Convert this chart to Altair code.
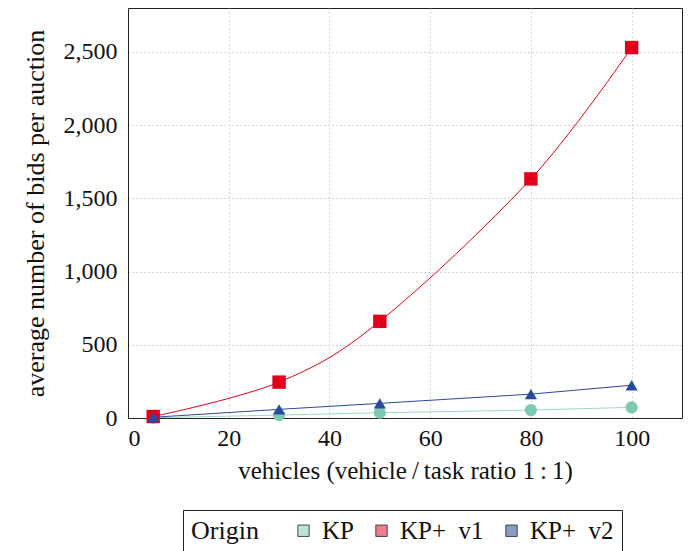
import altair as alt
import pandas as pd

vehicles = [5, 30, 50, 80, 100]
kp = [2, 20, 36, 54, 73]
kp_v1 = [10, 245, 660, 1633, 2530]
kp_v2 = [5, 59, 100, 163, 224]

series = ["KP", "KP+\u00a0\u00a0v1", "KP+\u00a0\u00a0v2"]
line_colors = ["#9ed9c9", "#e3001b", "#2b4a9c"]
mark_colors = ["#7fc8b4", "#e3001b", "#2b4a9c"]
legend_fill = ["#b8e3d8", "#f07d8c", "#8d9bcb"]
shapes = ["circle", "square", "triangle-up"]
sizes = [150, 180, 145]

rows = []
for name, vals in zip(series, [kp, kp_v1, kp_v2]):
    for v, b in zip(vehicles, vals):
        rows.append({"vehicles": v, "bids": b, "Origin": name})
df = pd.DataFrame(rows)

FONT = "Liberation Serif, Times New Roman, serif"
xs = alt.Scale(domain=[0, 110], nice=False)
ys = alt.Scale(domain=[0, 2800], nice=False)
X = alt.X("vehicles:Q", scale=xs,
          axis=alt.Axis(values=[0, 20, 40, 60, 80, 100],
                        title="vehicles (vehicle\u2009/\u2009task ratio 1\u2009:\u20091)",
                        titleFontSize=25,
                        labelPadding=8, titlePadding=8))
Y = alt.Y("bids:Q", scale=ys,
          axis=alt.Axis(values=[0, 500, 1000, 1500, 2000, 2500],
                        labelExpr="format(datum.value, ',')",
                        title="average number of bids per auction",
                        titleFontSize=26,
                        labelPadding=11, titlePadding=15))

layers = []
for i, name in enumerate(series):
    d = df[df.Origin == name]
    base = alt.Chart(d)
    line = base.mark_line(color=line_colors[i], strokeWidth=1,
                          interpolate="cardinal" if i == 1 else "linear").encode(x=X, y=Y)
    pts = base.mark_point(shape=shapes[i], filled=True, opacity=1, color=mark_colors[i],
                          size=sizes[i]).encode(x=X, y=Y)
    layers += [line, pts]

legend_layer = alt.Chart(df).mark_square(size=0, opacity=0).encode(
    x=X, y=Y,
    fill=alt.Fill("Origin:N",
                  scale=alt.Scale(domain=series, range=legend_fill),
                  legend=alt.Legend(orient="none", legendX=55, legendY=502,
                                    direction="horizontal",
                                    titleOrient="left", title="Origin",
                                    symbolType="square", symbolSize=130,
                                    symbolStrokeColor="#222", symbolStrokeWidth=0.8,
                                    symbolOpacity=1,
                                    strokeColor="#222", padding=8,
                                    columnPadding=15, labelOffset=6,
                                    titlePadding=32))
)

chart = alt.layer(*layers, legend_layer).properties(
    width=554, height=410,
    autosize=alt.AutoSizeParams(type="none"),
    padding={"left": 128, "top": 8, "right": 9, "bottom": 133}
).configure_view(stroke="#222", strokeWidth=1).configure_axis(
    labelFont=FONT, titleFont=FONT, labelFontSize=24,
    labelColor="#111", titleColor="#111", titleFontWeight="normal",
    grid=True, gridColor="#c8c8c8", gridDash=[1.5, 2.5], gridWidth=1,
    ticks=False, domainColor="#222"
).configure_legend(
    labelFont=FONT, titleFont=FONT, labelFontSize=25, titleFontSize=26,
    labelColor="#111", titleColor="#111", titleFontWeight="normal"
)

chart.save("out.html", embed_options={"renderer": "svg", "actions": False})
